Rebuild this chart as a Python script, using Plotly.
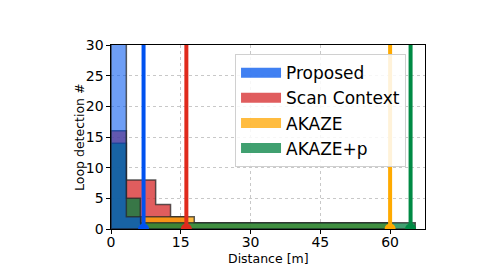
import plotly.graph_objects as go

# ---- data ----
series_names = ["Proposed", "Scan Context", "AKAZE", "AKAZE+p"]
proposed_edges = [0.0, 3.3, 6.4]
proposed_counts = [48, 2]
scan_edges = [0.0, 3.3, 9.6, 12.8, 16.2]
scan_counts = [16, 8, 4, 2]
akaze_edges = [6.4, 17.9, 59.6]
akaze_counts = [2, 1]
akazep_edges = [0.0, 3.3, 6.3, 65.4]
akazep_counts = [14, 5, 1]
max_distance = [7.0, 16.2, 60.0, 64.4]

base_rgb = ["0,85,238", "214,39,40", "255,165,0", "0,128,64"]
bar_alpha = [0.57, 0.75, 0.75, 0.75]
legend_alpha = 0.75
line_colors = ["#0052f0", "#e02a1c", "#ffaa00", "#008a44"]
draw_order = [1, 2, 3, 0]  # Scan Context bottom ... Proposed on top

edges_list = [proposed_edges, scan_edges, akaze_edges, akazep_edges]
counts_list = [proposed_counts, scan_counts, akaze_counts, akazep_counts]


def step_polygon(edges, counts):
    xs = [edges[0]]
    ys = [0]
    for i, c in enumerate(counts):
        xs += [edges[i], edges[i + 1]]
        ys += [c, c]
    xs.append(edges[-1])
    ys.append(0)
    xs.append(edges[0])
    ys.append(0)
    return xs, ys


fig = go.Figure()
for i in draw_order:
    xs, ys = step_polygon(edges_list[i], counts_list[i])
    fig.add_trace(go.Scatter(x=xs, y=ys, mode="lines", fill="toself",
                             fillcolor=f"rgba({base_rgb[i]},{bar_alpha[i]})",
                             line=dict(color="rgba(40,40,40,0.75)", width=1.5),
                             showlegend=False, hoverinfo="skip"))

# legend entries (legend only): a thick line acts as the colour patch
for i, name in enumerate(series_names):
    fig.add_trace(go.Scatter(x=[None], y=[None], mode="lines",
                             line=dict(color=f"rgba({base_rgb[i]},{legend_alpha})", width=13),
                             name=name, legendrank=i + 1))

for i in range(len(series_names)):
    m, lc = max_distance[i], line_colors[i]
    fig.add_trace(go.Scatter(x=[m, m], y=[0, 40], mode="lines", line=dict(color=lc, width=4),
                             showlegend=False, hoverinfo="skip"))
    fig.add_trace(go.Scatter(x=[m], y=[0], mode="markers", marker=dict(color=lc, size=11, symbol="circle"),
                             showlegend=False, hoverinfo="skip"))

axis_common = dict(showline=True, linecolor="black", linewidth=1.2, mirror=True,
                   ticks="outside", ticklen=3.5, tickcolor="black", zeroline=False,
                   showgrid=True, gridcolor="#c8c8c8", griddash="dot", gridwidth=1,
                   automargin=False,
                   tickfont=dict(size=14, color="black"))

# page body has an 8px default margin, so the figure is offset by 8px
fig.update_layout(
    width=490, height=272,
    margin=dict(l=103, r=73, t=37, b=51),
    paper_bgcolor="white", plot_bgcolor="white",
    font=dict(family="DejaVu Sans", color="black"),
    xaxis=dict(range=[0, 67.5], tickvals=[0, 15, 30, 45, 60], ticklabelstandoff=-3, **axis_common),
    yaxis=dict(range=[0, 30], tickvals=[0, 5, 10, 15, 20, 25, 30], **axis_common),
    annotations=[
        dict(text="Distance [m]", xref="paper", yref="paper", x=0.5, y=-0.163,
             xanchor="center", yanchor="middle", showarrow=False, font=dict(size=12.5)),
        dict(text="Loop detection #", xref="paper", yref="paper", x=-0.102, y=0.5,
             xanchor="center", yanchor="middle", textangle=-90, showarrow=False, font=dict(size=12.5)),
    ],
    legend=dict(x=0.395, y=0.95, xanchor="left", yanchor="top",
                bgcolor="rgba(255,255,255,0.85)", bordercolor="#d0d0d0", borderwidth=1,
                font=dict(size=17), tracegroupgap=0, itemwidth=40),
    showlegend=True,
)

fig.write_html("out.html")
